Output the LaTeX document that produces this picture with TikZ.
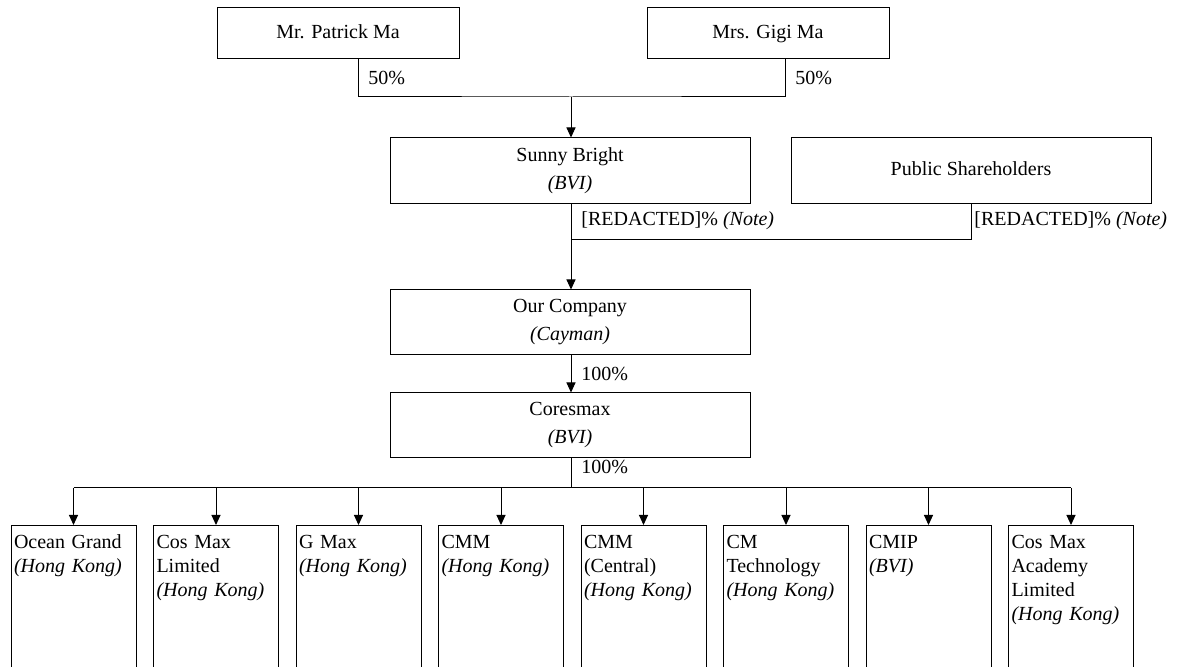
\documentclass[tikz,border=0pt]{standalone}
\usepackage{fontspec}
\setmainfont{Liberation Serif}
\usetikzlibrary{arrows.meta}
\tikzstyle{bx}=[draw=black,line width=.5pt,inner sep=1pt,align=center]
\tikzstyle{sub}=[draw=black,line width=.5pt,anchor=north,text width=59.5pt,align=left,inner xsep=1.5pt,inner ysep=2.5pt,text height=9pt,text depth=90pt]
\tikzstyle{pct}=[anchor=west,inner sep=1pt]
\tikzstyle{ln}=[line width=.5pt]
\tikzstyle{arr}=[line width=.5pt,-{Triangle[width=4.5pt,length=5pt]}]

\begin{document}
\begin{tikzpicture}[x=0.5pt,y=-0.5pt]
\useasboundingbox (0,0) rectangle (1188,667);
\clip (0,0) rectangle (1188,667);
% shareholders
\node[bx,minimum width=121pt,minimum height=25.5pt] (pm) at (338,33.5) {\strut Mr. Patrick Ma};
\node[bx,minimum width=121pt,minimum height=25.5pt] (gm) at (768,33.5) {\strut Mrs. Gigi Ma};
\node[bx,minimum width=180pt,minimum height=33pt] (sb) at (570,171) {Sunny Bright\\[2pt]\textit{(BVI)}};
\node[bx,minimum width=180pt,minimum height=33pt] (ps) at (971,171) {\strut Public Shareholders};
\node[bx,minimum width=180pt,minimum height=32.5pt] (oc) at (570,322.5) {Our Company\\[2pt]\textit{(Cayman)}};
\node[bx,minimum width=180pt,minimum height=32.5pt] (cx) at (570,425.5) {Coresmax\\[2pt]\textit{(BVI)}};
% subsidiaries
\node[sub] (s1) at (73.5,525) {Ocean Grand\\\mbox{\textit{(Hong Kong)}}};
\node[sub] (s2) at (216,525) {Cos Max\\Limited\\\mbox{\textit{(Hong Kong)}}};
\node[sub] (s3) at (358.5,525) {G Max\\\mbox{\textit{(Hong Kong)}}};
\node[sub] (s4) at (501,525) {CMM\\\mbox{\textit{(Hong Kong)}}};
\node[sub] (s5) at (643.5,525) {CMM\\(Central)\\\mbox{\textit{(Hong Kong)}}};
\node[sub] (s6) at (786,525) {CM\\Technology\\\mbox{\textit{(Hong Kong)}}};
\node[sub] (s7) at (928.5,525) {CMIP\\\textit{(BVI)}};
\node[sub] (s8) at (1071,525) {Cos Max\\Academy\\Limited\\\mbox{\textit{(Hong Kong)}}};
% joints
\coordinate (ja) at (571,97);
\coordinate (jb) at (571,240);
\coordinate (jc) at (571,488);
% connectors
\draw[ln] ([xshift=10pt]pm.south) |- (ja) -| ([xshift=8.5pt]gm.south);
\draw[arr] (ja) -- (sb.north -| ja);
\draw[arr] (sb.south -| ja) -- (oc.north -| ja);
\draw[ln] (ps.south) |- (jb);
\draw[arr] (oc.south -| ja) -- (cx.north -| ja);
\draw[ln] (cx.south -| ja) -- (jc);
\draw[ln] (s1.north |- jc) -- (s8.north |- jc);
\foreach \s in {s1,s2,s3,s4,s5,s6,s7,s8} \draw[arr] (\s.north |- jc) -- (\s.north);
% percentages
\node[pct] (p1) at (366,78) {50\%};
\node[pct] (p2) at (793,78) {50\%};
\node[pct] (p3) at (579,221) {[REDACTED]\% \textit{(Note)}};
\node[pct] (p4) at (972,221) {[REDACTED]\% \textit{(Note)}};
\node[pct] (p5) at (579,374) {100\%};
\node[pct] (p6) at (579,467) {100\%};
\end{tikzpicture}
\end{document}
